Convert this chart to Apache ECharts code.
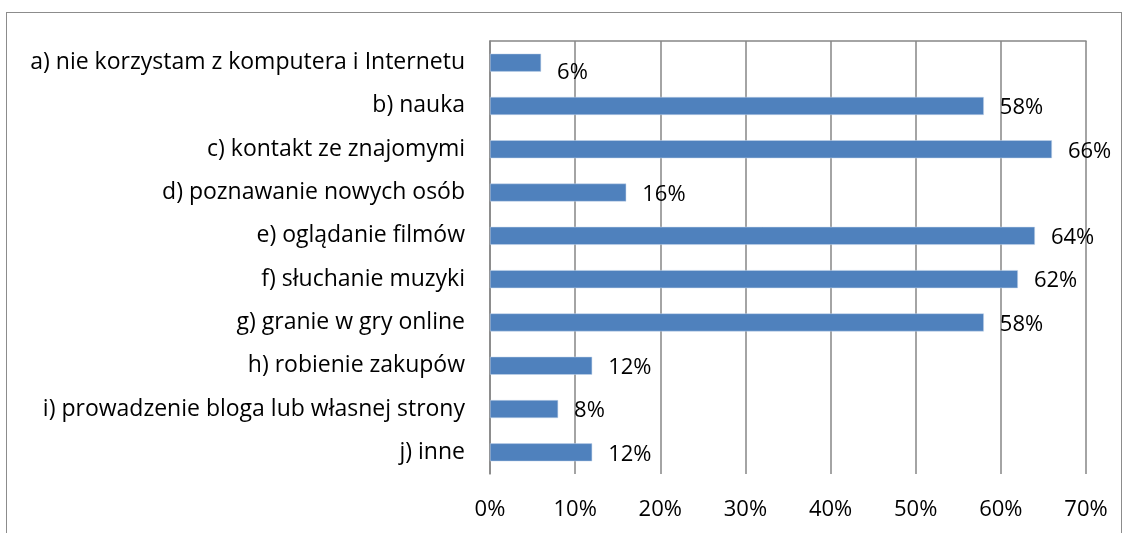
<!DOCTYPE html>
<html>
<head>
<meta charset="utf-8">
<script src="https://cdn.jsdelivr.net/npm/echarts@6/dist/echarts.min.js"></script>
<style>
  html, body { margin: 0; padding: 0; background: #fff; }
  #frame {
    position: absolute; left: 6px; top: 12px;
    width: 1116px; height: 540px;
    border: 1px solid #8c8c8c; box-sizing: border-box;
  }
  #chart { position: absolute; left: 0; top: 0; width: 1128px; height: 533px; }
</style>
</head>
<body>
<div id="frame"></div>
<div id="chart"></div>
<script>
const categories = [
  'a) nie korzystam z komputera i Internetu',
  'b) nauka',
  'c) kontakt ze znajomymi',
  'd) poznawanie nowych osób',
  'e) oglądanie filmów',
  'f) słuchanie muzyki',
  'g) granie w gry online',
  'h) robienie zakupów',
  'i) prowadzenie bloga lub własnej strony',
  'j) inne'
]
const values = [6, 58, 66, 16, 64, 62, 58, 12, 8, 12]
const xTicks = [0, 10, 20, 30, 40, 50, 60, 70]

const font = '"Open Sans", "Noto Sans", sans-serif'
const gridColor = '#868686'
const chart = echarts.init(document.getElementById('chart'))

// first label sits lower than the others in the original
const barData = values.map((v, i) => i === 0
  ? { value: v, label: { offset: [0, 10] } }
  : v)

const option = {
  animation: false,
  grid: { left: 490, right: 42, top: 41, bottom: 59, containLabel: false },
  xAxis: [{
    type: 'value',
    min: xTicks[0],
    max: xTicks[xTicks.length - 1],
    interval: 10,
    axisLine: { show: false },
    axisTick: { show: false },
    splitLine: { show: true, lineStyle: { color: gridColor, width: 1.5 } },
    axisLabel: {
      formatter: v => v + '%',
      color: '#000', fontSize: 22, fontFamily: font, margin: 25
    }
  }, {
    type: 'value', position: 'top',
    min: 0, max: 70,
    axisLine: { show: true, lineStyle: { color: gridColor, width: 1.5 } },
    axisTick: { show: false }, axisLabel: { show: false }, splitLine: { show: false }
  }],
  yAxis: {
    type: 'category',
    inverse: true,
    data: categories,
    axisLine: { show: true, lineStyle: { color: gridColor, width: 1.5 } },
    axisTick: { show: false },
    axisLabel: { color: '#000', fontSize: 23, fontFamily: font, margin: 25 }
  },
  series: [{
    type: 'bar',
    data: barData,
    barWidth: 18,
    itemStyle: { color: '#4f81bd', borderColor: '#c6d6ea', borderWidth: 0.5 },
    label: {
      show: true,
      position: 'right',
      distance: 16,
      offset: [0, 2],
      formatter: p => p.value + '%',
      color: '#000', fontSize: 22, fontFamily: font
    }
  }]
}

chart.setOption(option)
</script>
</body>
</html>
